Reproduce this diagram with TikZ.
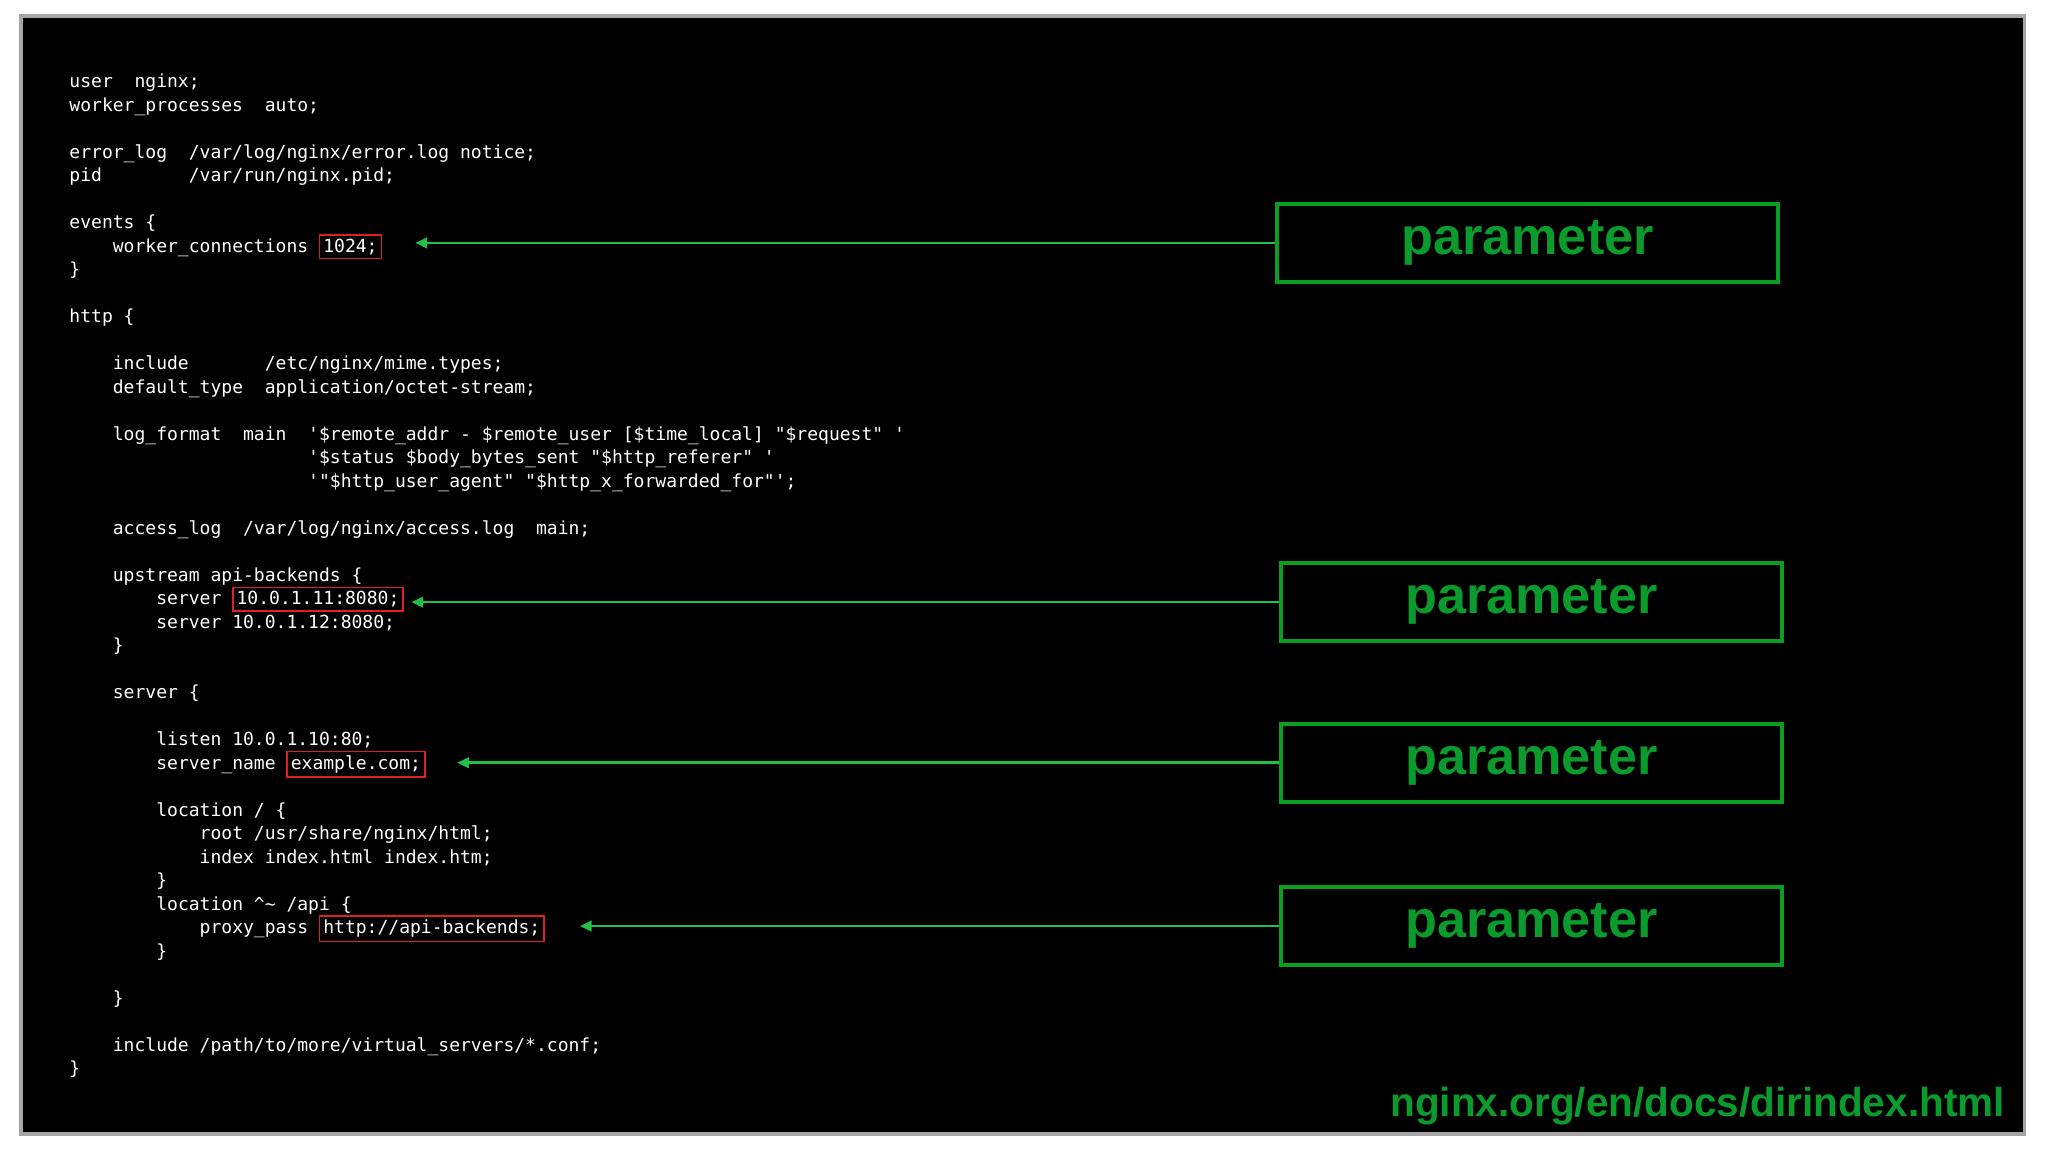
\documentclass[tikz,border=0pt]{standalone}
\usepackage{fontspec}
\setmainfont{Liberation Sans}
\newfontfamily\codefont{DejaVu Sans Mono}
\usetikzlibrary{arrows.meta}
\definecolor{boxgreen}{HTML}{0A9E22}
\definecolor{txtgreen}{HTML}{0B9A2C}
\definecolor{arrgreen}{HTML}{22C046}
\definecolor{hlred}{HTML}{E0201E}
\begin{document}
\begin{tikzpicture}[x=1pt,y=-1pt,
  code/.style={anchor=base west,inner sep=0pt,text=white,font=\codefont\fontsize{13.8}{16}\selectfont},
  hl/.style={code,draw=hlred,line width=1.3pt,inner xsep=3pt,inner ysep=3pt},
  parbox/.style={draw=boxgreen,line width=3pt,minimum width=383pt,minimum height=60pt,inner sep=0pt,text=txtgreen,font=\bfseries\fontsize{40}{44}\selectfont},
  conn/.style={draw=arrgreen,line width=2pt,-{Triangle[length=9pt,width=8pt]}}]
\useasboundingbox (0,0) rectangle (1568,882);
\fill[white] (0,0) rectangle (1568,882);
\draw[fill=black,draw=gray!70,line width=3pt] (16,12) rectangle (1550,868);
\def\cx{53}\def\cw{8.3}
\foreach \y/\t [count=\i] in {
 67/{user~~nginx;},
 85/{worker\_processes~~auto;},
 121/{error\_log~~/var/log/nginx/error.log~notice;},
 139/{pid~~~~~~~~/var/run/nginx.pid;},
 175/{events~\{},
 193/{~~~~worker\_connections},
 211/{\}},
 247/{http~\{},
 283/{~~~~include~~~~~~~/etc/nginx/mime.types;},
 301/{~~~~default\_type~~application/octet-stream;},
 337/{~~~~log\_format~~main~~'\$remote\_addr~-~\$remote\_user~[\$time\_local]~"\$request"~'},
 355/{~~~~~~~~~~~~~~~~~~~~~~'\$status~\$body\_bytes\_sent~"\$http\_referer"~'},
 373/{~~~~~~~~~~~~~~~~~~~~~~'"\$http\_user\_agent"~"\$http\_x\_forwarded\_for"';},
 409/{~~~~access\_log~~/var/log/nginx/access.log~~main;},
 445/{~~~~upstream~api-backends~\{},
 463/{~~~~~~~~server},
 481/{~~~~~~~~server~10.0.1.12:8080;},
 499/{~~~~\}},
 535/{~~~~server~\{},
 571/{~~~~~~~~listen~10.0.1.10:80;},
 589/{~~~~~~~~server\_name},
 625/{~~~~~~~~location~/~\{},
 643/{~~~~~~~~~~~~root~/usr/share/nginx/html;},
 661/{~~~~~~~~~~~~index~index.html~index.htm;},
 679/{~~~~~~~~\}},
 697/{~~~~~~~~location~\textasciicircum\textasciitilde{}~/api~\{},
 715/{~~~~~~~~~~~~proxy\_pass},
 733/{~~~~~~~~\}},
 769/{~~~~\}},
 805/{~~~~include~/path/to/more/virtual\_servers/*.conf;},
 823/{\}}}
 \node[code] (l\i) at (\cx,\y) {\t};
\node[hl] (h1) at ({\cx+23*\cw},193) {1024;};
\node[hl] (h2) at ({\cx+15*\cw},463) {10.0.1.11:8080;};
\node[hl] (h3) at ({\cx+20*\cw},589) {example.com;};
\node[hl] (h4) at ({\cx+23*\cw},715) {http://api-backends;};
\node[parbox] (p1) at (1169.5,186) {\raisebox{-6pt}{parameter}};
\node[parbox] (p2) at (1172.5,461) {\raisebox{-6pt}{parameter}};
\node[parbox] (p3) at (1172.5,584) {\raisebox{-6pt}{parameter}};
\node[parbox] (p4) at (1172.5,709) {\raisebox{-6pt}{parameter}};
\coordinate (t1) at (318,186);
\coordinate (t2) at (315,461);
\coordinate (t3) at (350,584);
\coordinate (t4) at (444,709);
\foreach \k in {1,2,3,4} \draw[conn] (p\k.west) -- (t\k);
\node[anchor=base east,inner sep=0pt,text=txtgreen,font=\bfseries\fontsize{31}{34}\selectfont] (url) at (1535,855) {nginx.org/en/docs/dirindex.html};
\end{tikzpicture}
\end{document}
